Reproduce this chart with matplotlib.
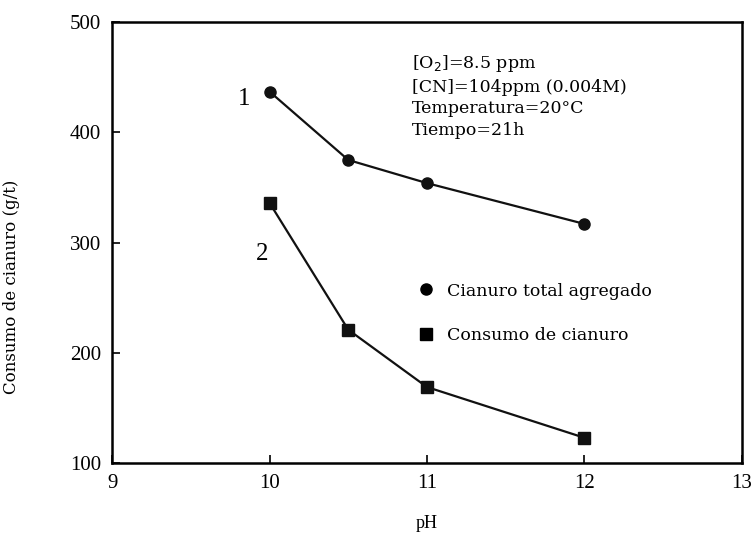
import matplotlib.pyplot as plt
from matplotlib.lines import Line2D

# data
ph = [10, 10.5, 11, 12]
cianuro_total = [437, 375, 354, 317]
consumo = [336, 221, 169, 123]

x_ticks = [9, 10, 11, 12, 13]
y_ticks = [100, 200, 300, 400, 500]

condiciones = "[O$_2$]=8.5 ppm\n[CN]=104ppm (0.004M)\nTemperatura=20°C\nTiempo=21h"

plt.rcParams['font.family'] = ['Liberation Serif', 'DejaVu Serif']

fig = plt.figure(figsize=(7.53, 5.41), dpi=100)
ax = fig.add_axes([0.149, 0.144, 0.836, 0.815])

ax.plot(ph, cianuro_total, color='#111111', lw=1.6, marker='o', ms=8)
ax.plot(ph, consumo, color='#111111', lw=1.6, marker='s', ms=8)

ax.set_xlim(9, 13)
ax.set_ylim(100, 500)
ax.set_xticks(x_ticks)
ax.set_yticks(y_ticks)
ax.tick_params(direction='in', length=6, width=1.2, labelsize=15, pad=8)
for s in ax.spines.values():
    s.set_linewidth(1.8)

ax.set_xlabel('pH', fontsize=13, labelpad=16)
ax.set_ylabel('Consumo de cianuro (g/t)', fontsize=12, family=['DejaVu Serif'])
ax.yaxis.set_label_coords(-0.147, 0.4)

# curve numbers
ax.text(9.88, 430, '1', fontsize=18, ha='right', va='center')
ax.text(9.99, 290, '2', fontsize=18, ha='right', va='center')

# experimental conditions
ax.text(0.476, 0.93, condiciones, transform=ax.transAxes, fontsize=12.5,
        va='top', ha='left', linespacing=1.35, family=['DejaVu Serif'])

handles = [
    Line2D([], [], ls='none', marker='o', color='black', ms=8),
    Line2D([], [], ls='none', marker='s', color='black', ms=8),
]
ax.legend(handles, ['Cianuro total agregado', 'Consumo de cianuro'],
          loc='upper left', bbox_to_anchor=(0.46, 0.445), frameon=False,
          handlelength=1.0, handletextpad=0.7, labelspacing=1.6,
          prop={'family': 'DejaVu Serif', 'size': 12.5})

fig.savefig('out.png', dpi=100)
